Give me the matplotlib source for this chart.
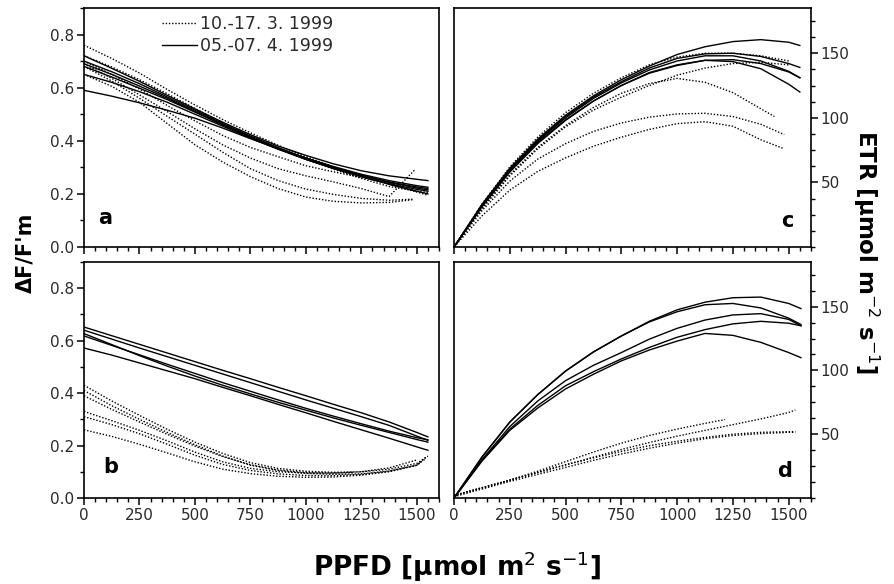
import matplotlib
matplotlib.use('Agg')
import matplotlib.pyplot as plt
from matplotlib.ticker import MultipleLocator, FixedLocator, NullFormatter
from matplotlib.lines import Line2D

plt.rcParams['font.family'] = ['DejaVu Sans']
plt.rcParams['axes.linewidth'] = 1.2

# PPFD grid the curves were read on; each curve's last value sits at its own end x
X_GRID = [0, 125, 250, 375, 500, 625, 750, 875, 1000, 1125, 1250, 1375, 1500]

# panel a: dF/F'm, plant 1
a_apr = [[0.72, 0.673, 0.624, 0.571, 0.52, 0.47, 0.423, 0.38, 0.345, 0.313, 0.287, 0.268, 0.255, 0.25],
         [0.70, 0.66, 0.615, 0.565, 0.515, 0.465, 0.418, 0.374, 0.335, 0.30, 0.27, 0.243, 0.222, 0.215],
         [0.69, 0.65, 0.606, 0.56, 0.51, 0.46, 0.413, 0.37, 0.33, 0.295, 0.264, 0.238, 0.217, 0.21],
         [0.68, 0.64, 0.598, 0.555, 0.508, 0.46, 0.413, 0.372, 0.335, 0.30, 0.267, 0.236, 0.21, 0.20],
         [0.65, 0.62, 0.585, 0.545, 0.50, 0.455, 0.41, 0.368, 0.33, 0.298, 0.27, 0.245, 0.226, 0.22],
         [0.59, 0.568, 0.543, 0.515, 0.485, 0.448, 0.408, 0.37, 0.335, 0.303, 0.274, 0.25, 0.231, 0.225]]
a_apr_end = [1550, 1550, 1550, 1550, 1550, 1550]
a_mar = [[0.76, 0.71, 0.655, 0.593, 0.535, 0.48, 0.43, 0.383, 0.34, 0.302, 0.267, 0.236, 0.207, 0.195],
         [0.72, 0.678, 0.63, 0.577, 0.522, 0.467, 0.415, 0.37, 0.33, 0.293, 0.258, 0.228, 0.21, 0.205],
         [0.70, 0.65, 0.595, 0.533, 0.475, 0.42, 0.375, 0.34, 0.306, 0.283, 0.262, 0.24, 0.21],
         [0.69, 0.635, 0.573, 0.51, 0.445, 0.385, 0.335, 0.295, 0.268, 0.245, 0.22, 0.19, 0.29],
         [0.68, 0.625, 0.56, 0.492, 0.425, 0.357, 0.295, 0.25, 0.218, 0.198, 0.183, 0.176, 0.18],
         [0.65, 0.605, 0.545, 0.465, 0.385, 0.32, 0.265, 0.22, 0.188, 0.172, 0.166, 0.168, 0.178]]
a_mar_end = [1550, 1550, 1500, 1490, 1480, 1480]

# panel b: dF/F'm, plant 2
b_apr = [[0.652, 0.619, 0.586, 0.553, 0.52, 0.487, 0.455, 0.422, 0.39, 0.357, 0.325, 0.29, 0.25, 0.233],
         [0.64, 0.606, 0.572, 0.539, 0.506, 0.473, 0.44, 0.407, 0.374, 0.342, 0.31, 0.277, 0.236, 0.22],
         [0.627, 0.585, 0.543, 0.503, 0.465, 0.43, 0.397, 0.365, 0.335, 0.305, 0.277, 0.25, 0.223, 0.213],
         [0.618, 0.582, 0.546, 0.51, 0.475, 0.44, 0.407, 0.374, 0.342, 0.312, 0.283, 0.255, 0.23, 0.222],
         [0.572, 0.545, 0.515, 0.485, 0.455, 0.422, 0.39, 0.357, 0.325, 0.292, 0.26, 0.228, 0.195, 0.182]]
b_apr_end = [1550, 1550, 1550, 1550, 1550]
b_mar = [[0.43, 0.37, 0.315, 0.262, 0.213, 0.17, 0.135, 0.113, 0.102, 0.098, 0.10, 0.11, 0.132, 0.16],
         [0.41, 0.352, 0.30, 0.25, 0.203, 0.16, 0.125, 0.105, 0.094, 0.09, 0.092, 0.103, 0.125, 0.155],
         [0.39, 0.338, 0.29, 0.243, 0.198, 0.158, 0.127, 0.107, 0.097, 0.095, 0.098],
         [0.33, 0.295, 0.258, 0.218, 0.175, 0.138, 0.113, 0.10, 0.095, 0.095, 0.10, 0.115, 0.145],
         [0.31, 0.28, 0.245, 0.205, 0.163, 0.128, 0.105, 0.092, 0.086, 0.085, 0.09, 0.102, 0.125, 0.14],
         [0.26, 0.235, 0.205, 0.172, 0.138, 0.11, 0.093, 0.083, 0.079, 0.08, 0.087, 0.10, 0.125, 0.15]]
b_mar_end = [1550, 1540, 1210, 1500, 1520, 1540]

# panel c: ETR, plant 1
c_apr = [[0, 33, 61, 83.5, 102, 117, 129.5, 140, 149, 155, 159, 160.5, 158.5, 156],
         [0, 32, 60, 82.5, 101, 116, 128, 138.5, 146, 149.5, 150, 147.5, 142, 139],
         [0, 32, 59.5, 82, 100, 115, 127, 137, 144, 148, 148, 144, 136, 131],
         [0, 31.5, 59, 81, 98.5, 113, 125, 134.5, 140.5, 144.5, 145, 142, 135.5, 131],
         [0, 31, 58, 80, 98, 113, 125, 135, 141, 144.5, 143.5, 138, 126, 120]]
c_apr_end = [1550, 1550, 1550, 1550, 1550]
c_mar = [[0, 33, 62, 85, 104, 119, 131, 141, 147, 150, 150, 148, 144],
         [0, 29.5, 55, 76, 93, 106, 116, 125, 133, 138.5, 142, 143, 141],
         [0, 30, 56, 77, 94, 108, 119, 126.5, 130.5, 127.5, 119.5, 107, 101],
         [0, 28, 51, 68, 80, 89.5, 96, 100.5, 103, 103.5, 101, 95, 87],
         [0, 24, 44, 58.5, 69, 78, 85, 91, 95.5, 97, 93.5, 83, 76]]
c_mar_end = [1500, 1500, 1436, 1480, 1480]

# panel d: ETR, plant 2
d_apr = [[0, 32, 59.5, 81, 99.5, 114.5, 127, 138.5, 147.5, 153.5, 157, 157.5, 152.5, 148.5],
         [0, 32, 59.5, 81, 99.5, 114.5, 127, 138, 146, 151.5, 152.5, 149, 141, 136],
         [0, 30, 56, 76, 92, 104, 114, 124.5, 133, 139.5, 143.5, 144.5, 140, 135],
         [0, 29, 54, 72.5, 88, 99, 109, 118, 126, 132, 136.5, 138.5, 137, 135],
         [0, 29, 53, 70.5, 85.5, 97, 107.5, 116, 123, 129, 127.5, 122, 114, 110]]
d_apr_end = [1555, 1555, 1555, 1555, 1555]
d_mar = [[2, 8, 14, 21, 28.5, 36, 43, 49, 54, 58.5, 61.5],
         [2, 8, 14, 20, 26, 32, 38, 43.5, 48.5, 53, 57.5, 62, 67, 69],
         [2, 8, 14, 20, 26, 31.5, 36.5, 41, 44.5, 47.5, 50, 51.5, 52, 52],
         [1, 7, 13, 18.5, 24, 29.5, 34.5, 39, 43, 46.5, 49, 50.5, 51.5, 51.5]]
d_mar_end = [1215, 1530, 1530, 1530]

legend_labels = ['10.-17. 3. 1999', '05.-07. 4. 1999']
dot = (0, (1, 1.3))


def draw(ax, curves, ends, ls):
    for ys, end in zip(curves, ends):
        xs = [g for g in X_GRID if g < end][:len(ys) - 1] + [end]
        ax.plot(xs, ys, color='black', lw=1.0, ls=ls)


fig = plt.figure(figsize=(8.95, 5.84), dpi=100)
W, H = 895.0, 584.0
def box(l, r, t, b):
    return [l / W, 1 - b / H, (r - l) / W, (b - t) / H]

ax_a = fig.add_axes(box(84, 439, 8, 247))
ax_b = fig.add_axes(box(84, 439, 262, 498))
ax_c = fig.add_axes(box(454, 811, 8, 247))
ax_d = fig.add_axes(box(454, 811, 262, 498))

draw(ax_a, a_mar, a_mar_end, dot)
draw(ax_a, a_apr, a_apr_end, '-')
draw(ax_b, b_mar, b_mar_end, dot)
draw(ax_b, b_apr, b_apr_end, '-')
draw(ax_c, c_mar, c_mar_end, dot)
draw(ax_c, c_apr, c_apr_end, '-')
draw(ax_d, d_mar, d_mar_end, dot)
draw(ax_d, d_apr, d_apr_end, '-')

for ax in (ax_a, ax_b, ax_c, ax_d):
    ax.set_xlim(0, 1600)
    ax.xaxis.set_major_locator(FixedLocator([0, 250, 500, 750, 1000, 1250, 1500]))
    ax.xaxis.set_minor_locator(MultipleLocator(50))
    ax.tick_params(axis='both', which='major', direction='out', length=5, width=1.1,
                   labelsize=11, labelcolor='#2a2a2a', pad=2)
    ax.tick_params(axis='both', which='minor', direction='out', length=3, width=1.0)

for ax in (ax_a, ax_b):
    ax.set_ylim(0, 0.9)
    ax.yaxis.set_major_locator(FixedLocator([0, 0.2, 0.4, 0.6, 0.8]))
    ax.yaxis.set_minor_locator(MultipleLocator(0.1))
    ax.yaxis.set_major_formatter(plt.FuncFormatter(lambda v, p: '%.1f' % v))

for ax in (ax_c, ax_d):
    ax.set_ylim(0, 185)
    ax.yaxis.tick_right()
    ax.yaxis.set_major_locator(FixedLocator([50, 100, 150]))
    ax.yaxis.set_minor_locator(MultipleLocator(12.5))

for ax in (ax_a, ax_c):
    ax.xaxis.set_major_formatter(NullFormatter())

ax_a.text(0.06, 0.12, 'a', transform=ax_a.transAxes, fontsize=15, fontweight='bold', ha='center', va='center')
ax_b.text(0.075, 0.13, 'b', transform=ax_b.transAxes, fontsize=15, fontweight='bold', ha='center', va='center')
ax_c.text(0.935, 0.11, 'c', transform=ax_c.transAxes, fontsize=15, fontweight='bold', ha='center', va='center')
ax_d.text(0.925, 0.115, 'd', transform=ax_d.transAxes, fontsize=15, fontweight='bold', ha='center', va='center')

handles = [Line2D([], [], color='black', lw=1.0, ls=dot), Line2D([], [], color='black', lw=1.0, ls='-')]
ax_a.legend(handles, legend_labels, loc='upper left', bbox_to_anchor=(0.2, 1.0), frameon=False,
            fontsize=12.5, handlelength=2.0, handletextpad=0.2, labelspacing=0.25,
            borderaxespad=0.2, borderpad=0.2, labelcolor='#2a2a2a')

fig.text(25 / W, 1 - 253 / H, "ΔF/F'm", rotation=90, ha='center', va='center', fontsize=15, fontweight='bold')
fig.text(866 / W, 1 - 252 / H, 'ETR [µmol m$^{-2}$ s$^{-1}$]', rotation=270, ha='center', va='center',
         fontsize=16.5, fontweight='bold')
fig.text(457 / W, 1 - 567 / H, 'PPFD [µmol m$^{2}$ s$^{-1}$]', ha='center', va='center',
         fontsize=19, fontweight='bold')

plt.savefig('out.png', dpi=100)
